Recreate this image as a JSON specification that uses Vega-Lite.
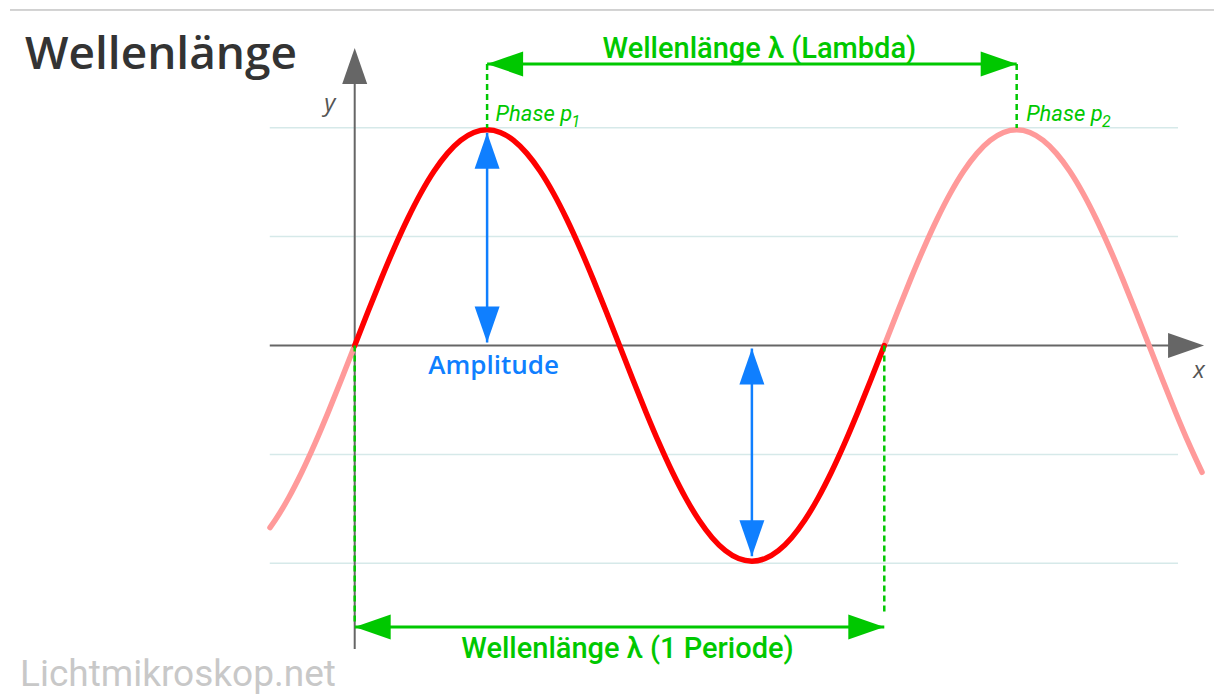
{
  "$schema": "https://vega.github.io/schema/vega-lite/v6.json",
  "width": 1215,
  "height": 694,
  "autosize": {"type": "fit", "contains": "padding"},
  "padding": 0,
  "background": "white",
  "config": {"view": {"stroke": null}},
  "datasets": {
    "border": [{"u": -0.6509, "u2": 1.6226, "v": 1.5556, "v2": 1.5556}],
    "grid": [
      {"u": -0.1604, "u2": 1.5547, "v": 1.01, "v2": 1.01},
      {"u": -0.1604, "u2": 1.5547, "v": 0.505, "v2": 0.505},
      {"u": -0.1604, "u2": 1.5547, "v": -0.505, "v2": -0.505},
      {"u": -0.1604, "u2": 1.5547, "v": -1.01, "v2": -1.01}
    ],
    "axes": [
      {"u": -0.1604, "u2": 1.56, "v": 0, "v2": 0},
      {"u": 0, "u2": 0, "v": -1.4074, "v2": 1.33}
    ],
    "wave": [
      {"seg": "L", "c": "faded", "u": -0.16, "v": -0.8443},
      {"seg": "L", "c": "faded", "u": -0.15, "v": -0.809},
      {"seg": "L", "c": "faded", "u": -0.125, "v": -0.7071},
      {"seg": "L", "c": "faded", "u": -0.1, "v": -0.5878},
      {"seg": "L", "c": "faded", "u": -0.075, "v": -0.454},
      {"seg": "L", "c": "faded", "u": -0.05, "v": -0.309},
      {"seg": "L", "c": "faded", "u": -0.025, "v": -0.1564},
      {"seg": "L", "c": "faded", "u": 0, "v": 0},
      {"seg": "R", "c": "faded", "u": 1, "v": 0},
      {"seg": "R", "c": "faded", "u": 1.025, "v": 0.1564},
      {"seg": "R", "c": "faded", "u": 1.05, "v": 0.309},
      {"seg": "R", "c": "faded", "u": 1.075, "v": 0.454},
      {"seg": "R", "c": "faded", "u": 1.1, "v": 0.5878},
      {"seg": "R", "c": "faded", "u": 1.125, "v": 0.7071},
      {"seg": "R", "c": "faded", "u": 1.15, "v": 0.809},
      {"seg": "R", "c": "faded", "u": 1.175, "v": 0.891},
      {"seg": "R", "c": "faded", "u": 1.2, "v": 0.9511},
      {"seg": "R", "c": "faded", "u": 1.225, "v": 0.9877},
      {"seg": "R", "c": "faded", "u": 1.25, "v": 1},
      {"seg": "R", "c": "faded", "u": 1.275, "v": 0.9877},
      {"seg": "R", "c": "faded", "u": 1.3, "v": 0.9511},
      {"seg": "R", "c": "faded", "u": 1.325, "v": 0.891},
      {"seg": "R", "c": "faded", "u": 1.35, "v": 0.809},
      {"seg": "R", "c": "faded", "u": 1.375, "v": 0.7071},
      {"seg": "R", "c": "faded", "u": 1.4, "v": 0.5878},
      {"seg": "R", "c": "faded", "u": 1.425, "v": 0.454},
      {"seg": "R", "c": "faded", "u": 1.45, "v": 0.309},
      {"seg": "R", "c": "faded", "u": 1.475, "v": 0.1564},
      {"seg": "R", "c": "faded", "u": 1.5, "v": 0},
      {"seg": "R", "c": "faded", "u": 1.525, "v": -0.1564},
      {"seg": "R", "c": "faded", "u": 1.55, "v": -0.309},
      {"seg": "R", "c": "faded", "u": 1.575, "v": -0.454},
      {"seg": "R", "c": "faded", "u": 1.6, "v": -0.5878},
      {"seg": "M", "c": "main", "u": 0, "v": 0},
      {"seg": "M", "c": "main", "u": 0.025, "v": 0.1564},
      {"seg": "M", "c": "main", "u": 0.05, "v": 0.309},
      {"seg": "M", "c": "main", "u": 0.075, "v": 0.454},
      {"seg": "M", "c": "main", "u": 0.1, "v": 0.5878},
      {"seg": "M", "c": "main", "u": 0.125, "v": 0.7071},
      {"seg": "M", "c": "main", "u": 0.15, "v": 0.809},
      {"seg": "M", "c": "main", "u": 0.175, "v": 0.891},
      {"seg": "M", "c": "main", "u": 0.2, "v": 0.9511},
      {"seg": "M", "c": "main", "u": 0.225, "v": 0.9877},
      {"seg": "M", "c": "main", "u": 0.25, "v": 1},
      {"seg": "M", "c": "main", "u": 0.275, "v": 0.9877},
      {"seg": "M", "c": "main", "u": 0.3, "v": 0.9511},
      {"seg": "M", "c": "main", "u": 0.325, "v": 0.891},
      {"seg": "M", "c": "main", "u": 0.35, "v": 0.809},
      {"seg": "M", "c": "main", "u": 0.375, "v": 0.7071},
      {"seg": "M", "c": "main", "u": 0.4, "v": 0.5878},
      {"seg": "M", "c": "main", "u": 0.425, "v": 0.454},
      {"seg": "M", "c": "main", "u": 0.45, "v": 0.309},
      {"seg": "M", "c": "main", "u": 0.475, "v": 0.1564},
      {"seg": "M", "c": "main", "u": 0.5, "v": 0},
      {"seg": "M", "c": "main", "u": 0.525, "v": -0.1564},
      {"seg": "M", "c": "main", "u": 0.55, "v": -0.309},
      {"seg": "M", "c": "main", "u": 0.575, "v": -0.454},
      {"seg": "M", "c": "main", "u": 0.6, "v": -0.5878},
      {"seg": "M", "c": "main", "u": 0.625, "v": -0.7071},
      {"seg": "M", "c": "main", "u": 0.65, "v": -0.809},
      {"seg": "M", "c": "main", "u": 0.675, "v": -0.891},
      {"seg": "M", "c": "main", "u": 0.7, "v": -0.9511},
      {"seg": "M", "c": "main", "u": 0.725, "v": -0.9877},
      {"seg": "M", "c": "main", "u": 0.75, "v": -1},
      {"seg": "M", "c": "main", "u": 0.775, "v": -0.9877},
      {"seg": "M", "c": "main", "u": 0.8, "v": -0.9511},
      {"seg": "M", "c": "main", "u": 0.825, "v": -0.891},
      {"seg": "M", "c": "main", "u": 0.85, "v": -0.809},
      {"seg": "M", "c": "main", "u": 0.875, "v": -0.7071},
      {"seg": "M", "c": "main", "u": 0.9, "v": -0.5878},
      {"seg": "M", "c": "main", "u": 0.925, "v": -0.454},
      {"seg": "M", "c": "main", "u": 0.95, "v": -0.309},
      {"seg": "M", "c": "main", "u": 0.975, "v": -0.1564},
      {"seg": "M", "c": "main", "u": 1, "v": 0}
    ],
    "dashes": [
      {"u": 0.25, "u2": 0.25, "v": 1.3056, "v2": 1.009},
      {"u": 1.25, "u2": 1.25, "v": 1.3056, "v2": 1.009},
      {"u": 0, "u2": 0, "v": 0, "v2": -1.2963},
      {"u": 1, "u2": 1, "v": 0, "v2": -1.245}
    ],
    "greenLines": [
      {"u": 0.25, "u2": 1.25, "v": 1.3056, "v2": 1.3056},
      {"u": 0, "u2": 1, "v": -1.3056, "v2": -1.3056}
    ],
    "blueLines": [
      {"u": 0.25, "u2": 0.25, "v": 0.986, "v2": 0.0139},
      {"u": 0.75, "u2": 0.75, "v": -0.0139, "v2": -0.977}
    ],
    "heads": [
      {"u": 0, "v": 1.3796, "dir": "up", "c": "axis"},
      {"u": 1.6038, "v": 0, "dir": "right", "c": "axis"},
      {"u": 0.25, "v": 1.3056, "dir": "left", "c": "green"},
      {"u": 1.25, "v": 1.3056, "dir": "right", "c": "green"},
      {"u": 0, "v": -1.3056, "dir": "left", "c": "green"},
      {"u": 1, "v": -1.3056, "dir": "right", "c": "green"},
      {"u": 0.25, "v": 0.986, "dir": "up", "c": "blue"},
      {"u": 0.25, "v": 0.0139, "dir": "down", "c": "blue"},
      {"u": 0.75, "v": -0.0139, "dir": "up", "c": "blue"},
      {"u": 0.75, "v": -0.977, "dir": "down", "c": "blue"}
    ],
    "title": [{"u": -0.6226, "v": 1.2824, "t": "Wellenlänge"}],
    "axisLetters": [
      {"u": -0.0472, "v": 1.088, "t": "y"},
      {"u": 1.5943, "v": -0.1528, "t": "x"}
    ],
    "phase": [
      {"u": 0.266, "v": 1.0417, "t": "Phase p"},
      {"u": 1.2679, "v": 1.0417, "t": "Phase p"}
    ],
    "sub": [
      {"u": 0.4094, "v": 1.0139, "t": "1"},
      {"u": 1.4113, "v": 1.0139, "t": "2"}
    ],
    "greenLabels": [
      {"u": 0.7642, "v": 1.3333, "t": "Wellenlänge λ (Lambda)"},
      {"u": 0.5151, "v": -1.4491, "t": "Wellenlänge λ (1 Periode)"}
    ],
    "amp": [{"u": 0.2623, "v": -0.1343, "t": "Amplitude"}],
    "mark": [{"u": -0.6321, "v": -1.5787, "t": "Lichtmikroskop.net"}]
  },
  "encoding": {
    "x": {"field": "u", "type": "quantitative", "scale": {"domain": [-0.6698, 1.6226], "nice": false, "zero": false}, "axis": null},
    "y": {"field": "v", "type": "quantitative", "scale": {"domain": [-1.6111, 1.6019], "nice": false, "zero": false}, "axis": null}
  },
  "layer": [
    {
      "data": {"name": "border"},
      "mark": {"type": "rule", "color": "#a6a6a6", "strokeWidth": 1},
      "encoding": {"x2": {"field": "u2"}, "y2": {"field": "v2"}}
    },
    {
      "data": {"name": "grid"},
      "mark": {"type": "rule", "color": "#d6e9e9", "strokeWidth": 1.5},
      "encoding": {"x2": {"field": "u2"}, "y2": {"field": "v2"}}
    },
    {
      "data": {"name": "axes"},
      "mark": {"type": "rule", "color": "#666666", "strokeWidth": 2},
      "encoding": {"x2": {"field": "u2"}, "y2": {"field": "v2"}}
    },
    {
      "data": {"name": "wave"},
      "mark": {"type": "line", "strokeWidth": 5.5, "strokeCap": "round", "interpolate": "monotone"},
      "encoding": {
        "detail": {"field": "seg"},
        "color": {"field": "c", "type": "nominal", "scale": {"domain": ["main", "faded", "axis", "green", "blue"], "range": ["#ff0000", "#ff9a9a", "#666666", "#00c800", "#0f7fff"]}, "legend": null}
      }
    },
    {
      "data": {"name": "dashes"},
      "mark": {"type": "rule", "color": "#00c800", "strokeWidth": 2.5, "strokeDash": [6, 4]},
      "encoding": {"x2": {"field": "u2"}, "y2": {"field": "v2"}}
    },
    {
      "data": {"name": "greenLines"},
      "mark": {"type": "rule", "color": "#00c800", "strokeWidth": 3},
      "encoding": {"x2": {"field": "u2"}, "y2": {"field": "v2"}}
    },
    {
      "data": {"name": "blueLines"},
      "mark": {"type": "rule", "color": "#0f7fff", "strokeWidth": 2.5},
      "encoding": {"x2": {"field": "u2"}, "y2": {"field": "v2"}}
    },
    {
      "data": {"name": "heads"},
      "mark": {"type": "point", "filled": true, "opacity": 1, "strokeWidth": 0, "size": 1296},
      "encoding": {
        "shape": {"field": "dir", "type": "nominal", "scale": {"domain": ["up", "down", "left", "right"], "range": ["M0,0L0.694,2L-0.694,2Z", "M0,0L0.694,-2L-0.694,-2Z", "M0,0L2,0.694L2,-0.694Z", "M0,0L-2,0.694L-2,-0.694Z"]}, "legend": null},
        "color": {"field": "c", "type": "nominal", "scale": {"domain": ["main", "faded", "axis", "green", "blue"], "range": ["#ff0000", "#ff9a9a", "#666666", "#00c800", "#0f7fff"]}, "legend": null}
      }
    },
    {
      "data": {"name": "title"},
      "mark": {"type": "text", "font": "Open Sans", "fontSize": 46, "fontWeight": 600, "color": "#333333", "align": "left", "baseline": "alphabetic"},
      "encoding": {"text": {"field": "t"}}
    },
    {
      "data": {"name": "axisLetters"},
      "mark": {"type": "text", "font": "Open Sans", "fontSize": 24, "fontStyle": "italic", "color": "#555555", "align": "center", "baseline": "alphabetic"},
      "encoding": {"text": {"field": "t"}}
    },
    {
      "data": {"name": "phase"},
      "mark": {"type": "text", "font": "Roboto", "fontSize": 22, "fontStyle": "italic", "color": "#00c800", "align": "left", "baseline": "alphabetic"},
      "encoding": {"text": {"field": "t"}}
    },
    {
      "data": {"name": "sub"},
      "mark": {"type": "text", "font": "Roboto", "fontSize": 16, "fontStyle": "italic", "color": "#00c800", "align": "left", "baseline": "alphabetic"},
      "encoding": {"text": {"field": "t"}}
    },
    {
      "data": {"name": "greenLabels"},
      "mark": {"type": "text", "font": "Roboto", "fontSize": 29, "fontWeight": 500, "color": "#00c800", "align": "center", "baseline": "alphabetic"},
      "encoding": {"text": {"field": "t"}}
    },
    {
      "data": {"name": "amp"},
      "mark": {"type": "text", "font": "Open Sans", "fontSize": 26, "fontWeight": 600, "color": "#0f7fff", "align": "center", "baseline": "alphabetic"},
      "encoding": {"text": {"field": "t"}}
    },
    {
      "data": {"name": "mark"},
      "mark": {"type": "text", "font": "Roboto", "fontSize": 37, "color": "#c8c8c8", "align": "left", "baseline": "alphabetic"},
      "encoding": {"text": {"field": "t"}}
    }
  ]
}
